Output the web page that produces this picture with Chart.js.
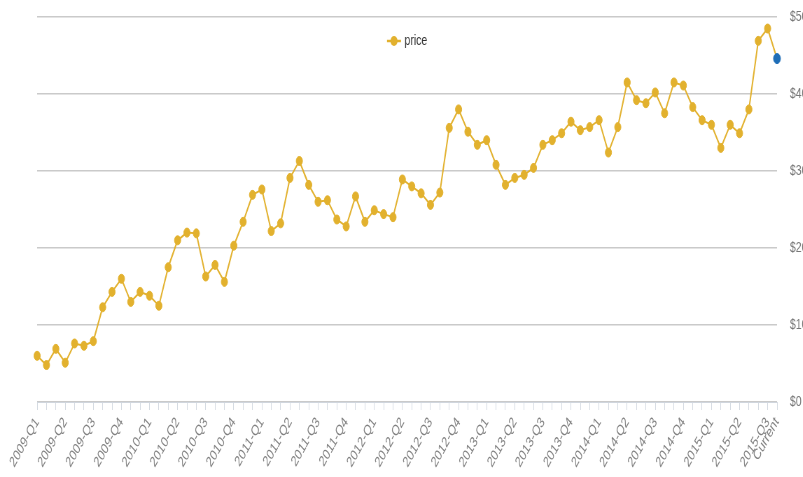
<!DOCTYPE html>
<html><head><meta charset="utf-8">
<script src="https://cdn.jsdelivr.net/npm/chart.js@4"></script>
<style>
html,body{margin:0;padding:0;background:#fff;overflow:hidden}
#wrap{width:803px;height:477px;overflow:hidden;position:relative;background:#fff}
#c{position:absolute;left:0;top:0;transform:scaleX(0.7);transform-origin:0 0}
</style></head><body>
<div id="wrap"><canvas id="c" width="1153" height="477"></canvas></div>
<script>
// ---- data ----
const months = [
  '2009-01','2009-02','2009-03','2009-04','2009-05','2009-06','2009-07','2009-08','2009-09','2009-10','2009-11','2009-12',
  '2010-01','2010-02','2010-03','2010-04','2010-05','2010-06','2010-07','2010-08','2010-09','2010-10','2010-11','2010-12',
  '2011-01','2011-02','2011-03','2011-04','2011-05','2011-06','2011-07','2011-08','2011-09','2011-10','2011-11','2011-12',
  '2012-01','2012-02','2012-03','2012-04','2012-05','2012-06','2012-07','2012-08','2012-09','2012-10','2012-11','2012-12',
  '2013-01','2013-02','2013-03','2013-04','2013-05','2013-06','2013-07','2013-08','2013-09','2013-10','2013-11','2013-12',
  '2014-01','2014-02','2014-03','2014-04','2014-05','2014-06','2014-07','2014-08','2014-09','2014-10','2014-11','2014-12',
  '2015-01','2015-02','2015-03','2015-04','2015-05','2015-06','2015-07','Current'
];
const tickLabels = [
  '2009-Q1','2009-Q2','2009-Q3','2009-Q4',
  '2010-Q1','2010-Q2','2010-Q3','2010-Q4',
  '2011-Q1','2011-Q2','2011-Q3','2011-Q4',
  '2012-Q1','2012-Q2','2012-Q3','2012-Q4',
  '2013-Q1','2013-Q2','2013-Q3','2013-Q4',
  '2014-Q1','2014-Q2','2014-Q3','2014-Q4',
  '2015-Q1','2015-Q2','2015-Q3'
];
const currentLabel = 'Current';
const priceValues = [
  6.0, 4.8, 6.9, 5.1, 7.6, 7.3, 7.9, 12.3, 14.3, 16.0,
  13.0, 14.3, 13.8, 12.5, 17.5, 21.0, 22.0, 21.9, 16.3, 17.8,
  15.6, 20.3, 23.4, 26.9, 27.6, 22.2, 23.2, 29.1, 31.3, 28.2,
  26.0, 26.2, 23.7, 22.8, 26.7, 23.4, 24.9, 24.4, 24.0, 28.9,
  28.0, 27.1, 25.6, 27.2, 35.6, 38.0, 35.1, 33.4, 34.0, 30.8,
  28.2, 29.1, 29.5, 30.4, 33.4, 34.0, 34.9, 36.4, 35.3, 35.7,
  36.6, 32.4, 35.7, 41.5, 39.2, 38.8, 40.2, 37.5, 41.5, 41.1,
  38.3, 36.6, 36.0, 33.0, 36.0, 34.9, 38.0, 46.9, 48.5, 44.6
];
const seriesName = 'price';
const yMin = 0, yMax = 50, yStep = 10;

// ---- style ----
const SX = 0.7;
const GOLD = '#e2b12e';
const BLUE = '#1e6db7';
Chart.defaults.font.family = '"Liberation Sans", Arial, sans-serif';

const lastIdx = priceValues.length - 1;
const pointColors = priceValues.map((v, i) => i === lastIdx ? BLUE : GOLD);
const pointRadii = priceValues.map((v, i) => i === lastIdx ? 5 : 4.5);

const floatLegend = {
  id: 'floatLegend',
  afterDraw(chart) {
    const ctx = chart.ctx;
    const cx = 394 / SX, cy = 41;
    ctx.save();
    ctx.strokeStyle = GOLD; ctx.lineWidth = 2.5;
    ctx.beginPath(); ctx.moveTo(cx - 10, cy); ctx.lineTo(cx + 10, cy); ctx.stroke();
    ctx.fillStyle = GOLD;
    ctx.beginPath(); ctx.arc(cx, cy, 5, 0, Math.PI * 2); ctx.fill();
    ctx.fillStyle = '#333';
    ctx.font = '15px "Liberation Sans", Arial, sans-serif';
    ctx.textBaseline = 'middle'; ctx.textAlign = 'left';
    ctx.fillText(seriesName, cx + 15, cy);
    ctx.restore();
  }
};

new Chart(document.getElementById('c'), {
  type: 'line',
  data: {
    labels: months,
    datasets: [{
      label: seriesName,
      data: priceValues,
      borderColor: GOLD,
      backgroundColor: GOLD,
      pointBackgroundColor: pointColors,
      pointBorderColor: pointColors,
      pointBorderWidth: 1,
      pointRadius: pointRadii,
      borderWidth: 2,
      tension: 0,
      clip: false
    }]
  },
  options: {
    responsive: false,
    animation: false,
    devicePixelRatio: 1,
    layout: { padding: { left: 53, top: 17, right: 0, bottom: 0 } },
    plugins: { legend: { display: false }, tooltip: { enabled: false } },
    scales: {
      x: {
        offset: false,
        grid: { drawOnChartArea: false, drawTicks: true, tickLength: 8, color: '#d3d9e1' },
        border: { color: '#d0d6de' },
        ticks: {
          autoSkip: false, maxRotation: 52, minRotation: 52, padding: 4,
          color: '#808080', font: { size: 15 },
          callback: (v, i) => i === lastIdx ? currentLabel : (i % 3 === 0 ? tickLabels[i / 3] : '')
        },
        afterFit(s) { s.height = 75; }
      },
      y: {
        position: 'right', min: yMin, max: yMax,
        ticks: { stepSize: yStep, padding: 18.5, color: '#777', font: { size: 15 }, callback: v => '$' + v },
        grid: { color: '#cacaca', lineWidth: 1.5, drawTicks: false },
        border: { display: false },
        afterFit(s) { s.width = 43; s.paddingTop = 0; s.paddingBottom = 0; }
      }
    }
  },
  plugins: [floatLegend]
});
</script>
</body></html>
